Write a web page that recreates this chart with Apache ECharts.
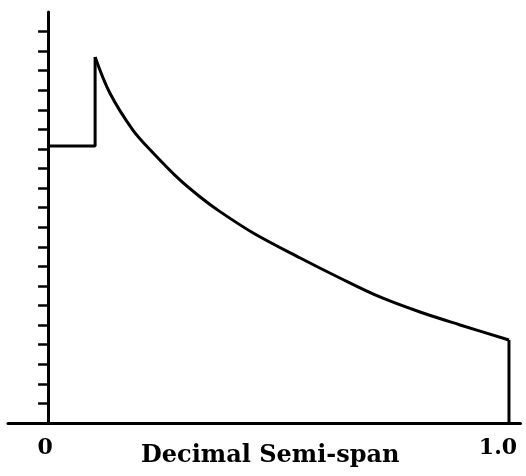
<!DOCTYPE html>
<html>
<head>
<meta charset="utf-8">
<script src="https://cdn.jsdelivr.net/npm/echarts@6/dist/echarts.min.js"></script>
<style>html,body{margin:0;padding:0;background:#fff;}#c{width:526px;height:476px;}</style>
</head>
<body>
<div id="c"></div>
<script>
// Decimal semi-span positions and load values
var stepX = [0, 0.102, 0.102];
var stepY = [14.15, 14.15, 18.7];
var curveX = [0.102, 0.134, 0.184, 0.228, 0.286, 0.330, 0.373, 0.445, 0.547, 0.633, 0.720, 0.807, 0.894, 1.0];
var curveY = [18.7, 16.86, 14.97, 13.80, 12.42, 11.55, 10.80, 9.71, 8.43, 7.41, 6.44, 5.67, 5.01, 4.24];
var tipX = [1.0, 1.0];
var tipY = [4.24, 0];
var xTickLabels = [0, 1];
var yTicks = [0,1,2,3,4,5,6,7,8,9,10,11,12,13,14,15,16,17,18,19,20];

function pairs(xs, ys) { return xs.map(function (x, i) { return [x, ys[i]]; }); }
var chart = echarts.init(document.getElementById('c'));
var font = '"DejaVu Serif", "Liberation Serif", serif';
var lineBase = { type: 'line', showSymbol: false, symbol: 'none', clip: false,
  lineStyle: { color: '#000', width: 3 } };
chart.setOption({
  animation: false,
  backgroundColor: '#fff',
  grid: { left: 8, right: 5.5, top: 12, bottom: 53, containLabel: false },
  xAxis: {
    type: 'value', min: -0.087, max: 1.025,
    name: 'Decimal Semi-span', nameLocation: 'middle', nameGap: 21, nameMoveOverlap: false,
    nameTextStyle: { color: '#000', fontFamily: font, fontWeight: 'bold', fontSize: 24, padding: [0, 0, 0, 12] },
    axisLine: { show: true, lineStyle: { color: '#000', width: 3 } },
    axisTick: { show: false },
    splitLine: { show: false },
    axisLabel: {
      customValues: xTickLabels, margin: 14,
      color: '#000', fontFamily: font, fontWeight: 'bold', fontSize: 22,
      formatter: function (v) { return v === 0 ? '{a|0}' : '{b|' + v.toFixed(1) + '}'; },
      rich: {
        a: { fontFamily: font, fontWeight: 'bold', fontSize: 22, color: '#000', padding: [0, 6, 0, 0] },
        b: { fontFamily: font, fontWeight: 'bold', fontSize: 22, color: '#000', padding: [0, 22, 0, 0] }
      }
    }
  },
  yAxis: {
    type: 'value', min: 0, max: 21,
    axisLine: { show: true, onZero: true, lineStyle: { color: '#000', width: 3 } },
    axisTick: { show: true, customValues: yTicks, length: 10, lineStyle: { color: '#000', width: 2.5 } },
    axisLabel: { show: false },
    splitLine: { show: false }
  },
  series: [
    Object.assign({}, lineBase, { data: pairs(stepX, stepY) }),
    Object.assign({}, lineBase, { data: pairs(curveX, curveY), smooth: 0.35 }),
    Object.assign({}, lineBase, { data: pairs(tipX, tipY) })
  ]
});
</script>
</body>
</html>
